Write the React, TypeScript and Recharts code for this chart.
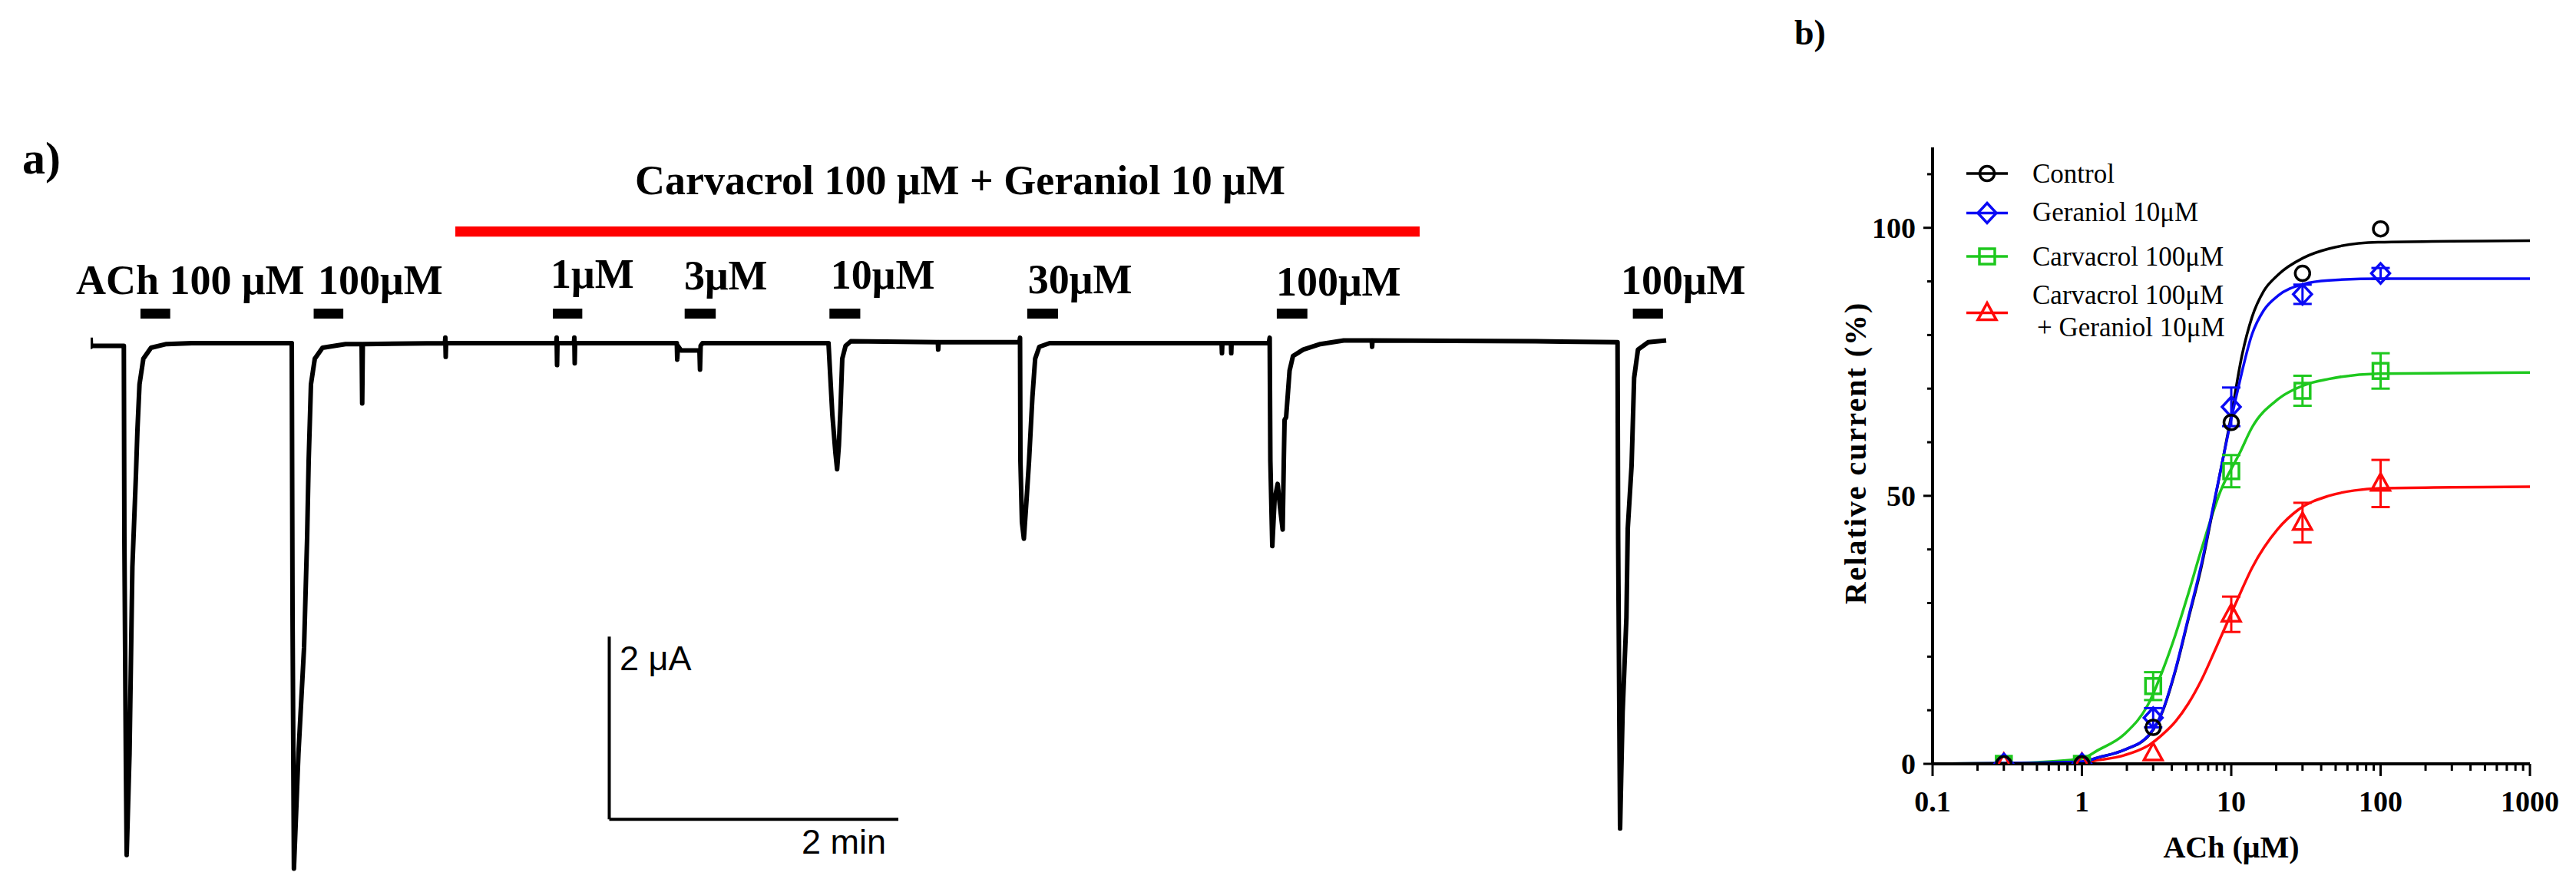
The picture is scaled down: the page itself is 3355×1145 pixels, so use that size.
import React from 'react';
import {
  LineChart,
  Line,
  XAxis,
  YAxis,
  ReferenceArea,
  ReferenceLine,
  ComposedChart,
  Scatter,
  ErrorBar,
} from 'recharts';

const SERIF = '"Liberation Serif", "Times New Roman", Times, serif';
const SANS = '"Liberation Sans", Arial, Helvetica, sans-serif';

// ================= Panel a : current trace =================
// time (s) and current (uA)
const traceTime = [
  0, 0.16, 0.64, 13.39, 13.8, 14.02, 14.66, 14.98, 16.16, 17.34, 18.81, 19.44, 20.3, 21.9, 25.08, 31.46, 42.07, 83.19,
  83.51, 83.83, 84.4, 86.28, 88.61, 89.88, 90.52, 91.47, 93.07, 96.26, 105.82, 112.51, 112.74, 112.99,
  147.09, 147.25, 147.41, 147.57,
  193.31, 193.47, 193.63, 193.79, 200.64, 200.8, 200.96, 201.12,
  243.35, 243.51, 243.82, 245.1, 252.75, 252.97, 253.23, 254.02,
  306.31, 307.9, 309.18, 309.88, 310.61, 311.28, 312.02, 313.4, 315.54,
  351.71, 351.84, 352.03,
  385.56, 385.82, 385.98, 386.61, 387.41, 388.53, 389.55, 390.95, 392.1, 393.82, 398.09,
  469.49, 469.64, 469.8, 473.37, 473.5, 473.63,
  489.1, 489.45, 489.73, 490.53, 491.49, 492.76, 493.72, 494.84, 495.31, 495.63, 496.27, 497.71, 499.14, 503.38, 510.49, 520.18,
  531.81, 531.97, 532.13,
  599.84, 633.85, 634.1, 634.9, 635.95, 637.54, 638.09, 639.68, 640.73, 642.33, 646.6, 654.03,
];
const traceCurrent = [
  0.06, -0.04, -0.03, -0.03, -0.03, -2.13, -4.65, -5.6, -4.49, -2.45, -1.45, -0.95, -0.45, -0.17, -0.05, -0.01, 0.0, 0.0,
  0, -2.97, -5.75, -4.49, -3.33, -2.13, -1.29, -0.45, -0.17, -0.05, -0.01, -0.01, -0.66, -0.01,
  0, 0.06, -0.15, 0,
  0, 0.06, -0.24, 0, 0, 0.06, -0.22, 0,
  0, -0.18, -0.03, -0.08, -0.08, -0.29, -0.03, 0,
  0, -0.78, -1.2, -1.38, -1.12, -0.72, -0.17, -0.03, 0.02,
  0.01, -0.07, 0.01,
  0.01, 0.06, -1.29, -1.96, -2.14, -1.71, -1.29, -0.59, -0.17, -0.04, 0.0,
  0, -0.11, 0, 0, -0.11, 0,
  0, 0.06, -1.29, -2.22, -1.71, -1.54, -1.79, -2.04, -1.29, -0.84, -0.81, -0.3, -0.14, -0.07, -0.01, 0.03,
  0.03, -0.04, 0.03,
  0.02, 0.01, -2.13, -5.31, -4.04, -3.0, -2.03, -1.34, -0.38, -0.07, 0.01, 0.03,
];

// ACh applications (s)
const appStart = [20.7, 92.6, 191.9, 246.6, 306.7, 388.8, 492.4, 640.2];
const appEnd = [33.05, 104.9, 204.1, 259.5, 319.5, 401.6, 505.1, 652.7];
const appLabels = ['ACh 100 μM', '100μM', '1μM', '3μM', '10μM', '30μM', '100μM', '100μM'];

// co-application (s)
const coApplication = [151.4, 551.7];
const coLabel = 'Carvacrol 100 μM + Geraniol 10 μM';

// scale bars
const scaleBarTime = [120]; // s (2 min)
const scaleBarCurrent = [2]; // uA

// ---- layout (not data) ----
const APP_BAR_I = [0.269, 0.378];
const CO_BAR_I = [1.165, 1.277];
const appLabelDx = [-84, 5.5, -3, -0.7, 1.6, 1, -1, -15.7];
const appLabelGap = [18.7, 18.7, 27, 24.7, 26, 20.3, 17, 18.7];
const SB_T0 = 215.3;
const SB_I0 = -5.21;

const traceData = traceTime.map((t, k) => ({ t, i: traceCurrent[k] }));

// ================= Panel b : concentration-response =================
const conc = [0.3, 1, 3, 10, 30, 100];
const controlMean = [0, 0, 6.8, 63.7, 91.5, 99.8];
const geraniolMean = [0, 0, 8.6, 66.6, 87.6, 91.5];
const geraniolSem = [0, 0, 1.8, 3.6, 1.8, 1.0];
const carvacrolMean = [0, 0, 14.5, 54.6, 69.6, 73.3];
const carvacrolSem = [0, 0, 2.6, 3.0, 2.8, 3.3];
const comboMean = [0, 0, 2.0, 27.9, 45.0, 52.3];
const comboSem = [0, 0, 0, 3.3, 3.7, 4.4];

// fitted curves, sampled from the figure
const controlCurveX = [0.1, 0.3, 1, 1.29, 1.92, 2.85, 3.47, 4.23, 5.15, 6.28, 7.96, 10, 11.8, 13.8, 16.5, 20.5, 30.4, 45, 96, 1000];
const controlCurveY = [0, 0.1, 0.4, 1.2, 2.6, 5.5, 9.8, 17.4, 26.9, 36.5, 50.8, 65, 76.2, 83.4, 88.2, 91.2, 94.4, 96.1, 97.3, 97.6];
const geraniolCurveX = [0.1, 0.3, 1, 1.29, 1.92, 2.85, 3.47, 4.23, 5.15, 6.28, 7.96, 10.9, 13.8, 16.5, 20.5, 30.4, 45, 100, 1000];
const geraniolCurveY = [0, 0.1, 0.4, 1.2, 2.6, 5.6, 9.9, 17.6, 27.2, 37, 51, 69, 80.2, 84.6, 87.3, 89.5, 90.2, 90.5, 90.5];
const carvacrolCurveX = [0.1, 0.3, 0.5, 1, 1.29, 1.92, 2.85, 3.47, 4.23, 5.15, 6.28, 8.45, 11.4, 13.8, 20.5, 30.4, 45, 96, 1000];
const carvacrolCurveY = [0, 0.1, 0.3, 1.0, 2.6, 5.5, 11.7, 17.4, 24.1, 31.7, 39.8, 50.8, 58, 62.8, 68, 70.6, 71.8, 72.8, 73];
const comboCurveX = [0.1, 0.3, 1, 1.29, 1.92, 2.85, 3.47, 4.23, 5.15, 6.28, 7.96, 10.9, 13.8, 20.5, 28.1, 45, 66.8, 100, 1000];
const comboCurveY = [0, 0.05, 0.3, 0.7, 1.6, 3.6, 5.5, 7.9, 11.2, 15.5, 21.8, 30.4, 36.6, 43.8, 47.4, 50.0, 51.0, 51.4, 51.7];

const xMajorTicks = [0.1, 1, 10, 100, 1000];
const xTicks = [
  0.1, 0.2, 0.3, 0.4, 0.5, 0.6, 0.7, 0.8, 0.9,
  1, 2, 3, 4, 5, 6, 7, 8, 9,
  10, 20, 30, 40, 50, 60, 70, 80, 90,
  100, 200, 300, 400, 500, 600, 700, 800, 900,
  1000,
];
const yMajorTicks = [0, 50, 100];
const yTicks = [0, 10, 20, 30, 40, 50, 60, 70, 80, 90, 100, 110];

const legendNames = [['Control'], ['Geraniol 10μM'], ['Carvacrol 100μM'], ['Carvacrol 100μM', '+ Geraniol 10μM']];

const BLACK = '#000000';
const BLUE = '#0a0af5';
const GREEN = '#1ec81e';
const RED = '#ff0a0a';

const pts = (mean: number[], sem?: number[]) => conc.map((x, k) => ({ x, y: mean[k], e: sem ? sem[k] : 0 }));
const curve = (xs: number[], ys: number[]) => xs.map((x, k) => ({ x, y: ys[k] }));

// ---------- marker shapes ----------
const Marker = ({ kind, cx, cy, color }: { kind: string; cx: number; cy: number; color: string }) => {
  const sw = 3.5;
  if (kind === 'circle') return <circle cx={cx} cy={cy} r={9.5} fill="none" stroke={color} strokeWidth={sw} />;
  if (kind === 'diamond')
    return (
      <polygon
        points={`${cx},${cy - 13} ${cx + 12},${cy} ${cx},${cy + 13} ${cx - 12},${cy}`}
        fill="none"
        stroke={color}
        strokeWidth={sw}
      />
    );
  if (kind === 'square')
    return <rect x={cx - 10} y={cy - 10} width={20} height={20} fill="none" stroke={color} strokeWidth={sw} />;
  return (
    <polygon
      points={`${cx},${cy - 13} ${cx + 12},${cy + 9} ${cx - 12},${cy + 9}`}
      fill="none"
      stroke={color}
      strokeWidth={sw}
      strokeLinejoin="miter"
    />
  );
};
const shapeOf = (kind: string, color: string) => (p: any) => <Marker kind={kind} cx={p.cx} cy={p.cy} color={color} />;

// ---------- labels ----------
const AppLabel = (props: any) => {
  const { viewBox, text, dx, gap } = props;
  if (!viewBox) return null;
  return (
    <text x={viewBox.x + dx} y={viewBox.y - gap} fontFamily={SERIF} fontWeight="bold" fontSize={54} fill="#000">
      {text}
    </text>
  );
};
const TitleLabel = (props: any) => {
  const { viewBox, text } = props;
  if (!viewBox) return null;
  return (
    <text
      x={viewBox.x + viewBox.width / 2 + 29.5}
      y={viewBox.y - 41.7}
      textAnchor="middle"
      fontFamily={SERIF}
      fontWeight="bold"
      fontSize={54}
      fill="#000"
    >
      {text}
    </text>
  );
};
const ScaleLabelV = (props: any) => {
  const { viewBox, text } = props;
  if (!viewBox) return null;
  return (
    <text x={viewBox.x + 13.5} y={viewBox.y + 43.6} fontFamily={SANS} fontSize={45} fill="#000">
      {text}
    </text>
  );
};
const ScaleLabelH = (props: any) => {
  const { viewBox, text } = props;
  if (!viewBox) return null;
  return (
    <text x={viewBox.x + viewBox.width - 16} y={viewBox.y + 45.2} textAnchor="end" fontFamily={SANS} fontSize={45} fill="#000">
      {text}
    </text>
  );
};

const XTick = (props: any) => {
  const { x, y, payload } = props;
  const v = payload.value;
  const major = xMajorTicks.some((m) => Math.abs(m - v) < 1e-9);
  return (
    <g>
      <line x1={x} y1={y} x2={x} y2={y + (major ? 16 : 9)} stroke="#000" strokeWidth={3} />
      {major && (
        <text x={x} y={y + 62} textAnchor="middle" fontFamily={SERIF} fontWeight="bold" fontSize={38} fill="#000">
          {String(v)}
        </text>
      )}
    </g>
  );
};
const YTick = (props: any) => {
  const { x, y, payload } = props;
  const v = payload.value;
  const major = yMajorTicks.includes(v);
  return (
    <g>
      <line x1={x} y1={y} x2={x - (major ? 12 : 7)} y2={y} stroke="#000" strokeWidth={3} />
      {major && (
        <text x={x - 22} y={y} dy="0.35em" textAnchor="end" fontFamily={SERIF} fontWeight="bold" fontSize={38} fill="#000">
          {String(v)}
        </text>
      )}
    </g>
  );
};
const XTitle = (props: any) => {
  const { viewBox } = props;
  if (!viewBox) return null;
  return (
    <text
      x={viewBox.x + viewBox.width / 2}
      y={viewBox.y + 122}
      textAnchor="middle"
      fontFamily={SERIF}
      fontWeight="bold"
      fontSize={40}
      fill="#000"
    >
      ACh (μM)
    </text>
  );
};
const YTitle = (props: any) => {
  const { viewBox } = props;
  if (!viewBox) return null;
  const cx = viewBox.x + 13;
  const cy = viewBox.y + viewBox.height / 2 - 3.5;
  return (
    <text
      x={cx}
      y={cy}
      transform={`rotate(-90, ${cx}, ${cy})`}
      textAnchor="middle"
      fontFamily={SERIF}
      fontWeight="bold"
      fontSize={40}
      letterSpacing={2}
      fill="#000"
    >
      Relative current (%)
    </text>
  );
};

// legend layout (absolute page px)
const LEG_X0 = 2561;
const LEG_X1 = 2615;
const LEG_MX = 2588;
const LEG_TX = 2647;
const legendMarkerY = [226, 277.5, 334, 407.6];
const legendTextY = [[238], [288], [345.6], [396, 438]];
const legendKinds = ['circle', 'diamond', 'square', 'triangle'];
const legendColors = [BLACK, BLUE, GREEN, RED];

export default function App() {
  return (
    <div
      style={{
        position: 'absolute',
        left: 0,
        top: 0,
        width: 3355,
        height: 1145,
        overflow: 'hidden',
        background: '#fff',
      }}
    >
      {/* ---------- panel a ---------- */}
      <div style={{ position: 'absolute', left: 0, top: 0 }}>
        <LineChart
          width={2300}
          height={1145}
          data={traceData}
          margin={{ top: 149.4, right: 111.25, bottom: 1.6, left: 118 }}
        >
          <XAxis type="number" dataKey="t" domain={[0, 660]} hide allowDataOverflow />
          <YAxis type="number" domain={[-5.85, 2.5]} hide allowDataOverflow />
          <ReferenceArea
            x1={coApplication[0]}
            x2={coApplication[1]}
            y1={CO_BAR_I[0]}
            y2={CO_BAR_I[1]}
            fill="#ff0000"
            fillOpacity={1}
            stroke="none"
            ifOverflow="visible"
            label={<TitleLabel text={coLabel} />}
          />
          {appStart.map((s, k) => (
            <ReferenceArea
              key={k}
              x1={s}
              x2={appEnd[k]}
              y1={APP_BAR_I[0]}
              y2={APP_BAR_I[1]}
              fill="#000"
              fillOpacity={1}
              stroke="none"
              ifOverflow="visible"
              label={<AppLabel text={appLabels[k]} dx={appLabelDx[k]} gap={appLabelGap[k]} />}
            />
          ))}
          <ReferenceLine
            segment={[
              { x: SB_T0, y: SB_I0 + scaleBarCurrent[0] },
              { x: SB_T0, y: SB_I0 },
            ]}
            stroke="#000"
            strokeWidth={4}
            ifOverflow="visible"
            label={<ScaleLabelV text={`${scaleBarCurrent[0]} μA`} />}
          />
          <ReferenceLine
            segment={[
              { x: SB_T0, y: SB_I0 },
              { x: SB_T0 + scaleBarTime[0], y: SB_I0 },
            ]}
            stroke="#000"
            strokeWidth={4}
            ifOverflow="visible"
            label={<ScaleLabelH text={`${scaleBarTime[0] / 60} min`} />}
          />
          <Line
            type="linear"
            dataKey="i"
            stroke="#000"
            strokeWidth={6}
            strokeLinejoin="round"
            dot={false}
            isAnimationActive={false}
          />
        </LineChart>
      </div>

      {/* ---------- panel b ---------- */}
      <div style={{ position: 'absolute', left: 2300, top: 0 }}>
        <ComposedChart width={1055} height={1145} margin={{ top: 192, right: 60, bottom: 50, left: 117 }}>
          <XAxis
            type="number"
            dataKey="x"
            scale="log"
            domain={[0.1, 1000]}
            allowDataOverflow
            ticks={xTicks}
            interval={0}
            tickSize={0}
            tickMargin={0}
            tickLine={false}
            axisLine={{ stroke: '#000', strokeWidth: 4 }}
            height={100}
            tick={<XTick />}
            label={<XTitle />}
          />
          <YAxis
            type="number"
            dataKey="y"
            domain={[0, 115]}
            allowDataOverflow
            ticks={yTicks}
            interval={0}
            tickSize={0}
            tickMargin={0}
            tickLine={false}
            axisLine={{ stroke: '#000', strokeWidth: 4 }}
            width={100}
            tick={<YTick />}
            label={<YTitle />}
          />
          <Line data={curve(comboCurveX, comboCurveY)} dataKey="y" type="monotone" stroke={RED} strokeWidth={3.5} dot={false} isAnimationActive={false} />
          <Line data={curve(carvacrolCurveX, carvacrolCurveY)} dataKey="y" type="monotone" stroke={GREEN} strokeWidth={3.5} dot={false} isAnimationActive={false} />
          <Line data={curve(controlCurveX, controlCurveY)} dataKey="y" type="monotone" stroke={BLACK} strokeWidth={3.5} dot={false} isAnimationActive={false} />
          <Line data={curve(geraniolCurveX, geraniolCurveY)} dataKey="y" type="monotone" stroke={BLUE} strokeWidth={3.5} dot={false} isAnimationActive={false} />
          <Scatter data={pts(comboMean, comboSem)} dataKey="y" shape={shapeOf('triangle', RED)} isAnimationActive={false}>
            <ErrorBar dataKey="e" direction="y" width={12} stroke={RED} strokeWidth={3} />
          </Scatter>
          <Scatter data={pts(carvacrolMean, carvacrolSem)} dataKey="y" shape={shapeOf('square', GREEN)} isAnimationActive={false}>
            <ErrorBar dataKey="e" direction="y" width={12} stroke={GREEN} strokeWidth={3} />
          </Scatter>
          <Scatter data={pts(geraniolMean, geraniolSem)} dataKey="y" shape={shapeOf('diamond', BLUE)} isAnimationActive={false}>
            <ErrorBar dataKey="e" direction="y" width={12} stroke={BLUE} strokeWidth={3} />
          </Scatter>
          <Scatter data={pts(controlMean)} dataKey="y" shape={shapeOf('circle', BLACK)} isAnimationActive={false} />
        </ComposedChart>
      </div>

      {/* ---------- panel letters and legend ---------- */}
      <svg width={3355} height={1145} style={{ position: 'absolute', left: 0, top: 0, pointerEvents: 'none' }}>
        <text x={29} y={226} fontFamily={SERIF} fontWeight="bold" fontSize={60} fill="#000">
          a)
        </text>
        <text x={2337} y={58} fontFamily={SERIF} fontWeight="bold" fontSize={46} fill="#000">
          b)
        </text>
        {legendNames.map((lines, k) => (
          <g key={k}>
            <line x1={LEG_X0} y1={legendMarkerY[k]} x2={LEG_X1} y2={legendMarkerY[k]} stroke={legendColors[k]} strokeWidth={3.5} />
            <Marker kind={legendKinds[k]} cx={LEG_MX} cy={legendMarkerY[k]} color={legendColors[k]} />
            {lines.map((ln, j) => (
              <text
                key={j}
                x={LEG_TX + (j > 0 ? 6 : 0)}
                y={legendTextY[k][j]}
                fontFamily={SERIF}
                fontSize={35}
                fill="#000"
              >
                {ln}
              </text>
            ))}
          </g>
        ))}
      </svg>
    </div>
  );
}
